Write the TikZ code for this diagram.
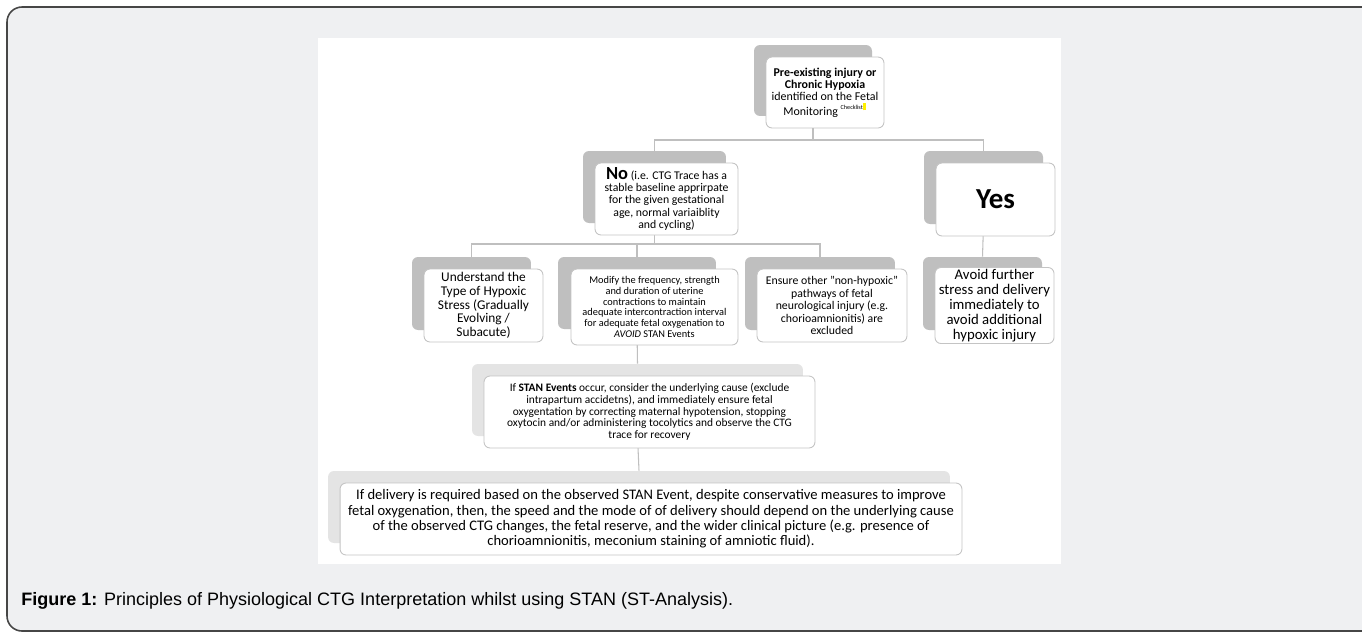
\documentclass[tikz,border=0pt]{standalone}
\usepackage{fontspec}
\setmainfont{Carlito}
\newfontfamily\capfont{Liberation Sans}
\usetikzlibrary{backgrounds}
\definecolor{pagebg}{RGB}{239,240,242}
\definecolor{framegray}{RGB}{70,70,70}
\definecolor{shadedark}{RGB}{191,191,191}
\definecolor{shadelight}{RGB}{228,228,228}
\definecolor{boxline}{RGB}{196,196,196}
\definecolor{linkgray}{RGB}{191,191,191}
\definecolor{marker}{RGB}{255,240,0}

\begin{document}
\begin{tikzpicture}[x=0.02cm,y=-0.02cm]

\tikzstyle{sd} = [fill=shadedark, rounded corners=0.12cm, inner sep=0pt]
\tikzstyle{sl} = [fill=shadelight, rounded corners=0.12cm, inner sep=0pt]
\tikzstyle{b} = [draw=boxline, line width=0.5pt, fill=white, rounded corners=0.12cm, align=center, inner sep=1pt]
\tikzstyle{link} = [draw=linkgray, line width=0.6pt]

\useasboundingbox (0,0) rectangle (1362,633);

% page and figure area
\begin{scope}[on background layer]
\draw[framegray, line width=0.9pt, fill=pagebg, rounded corners=0.3cm] (7,7) rectangle (1400,631);
\fill[white] (318,38) rectangle (1061,564);
\end{scope}

% level 0
\node[sd, minimum width=2.36cm, minimum height=1.42cm] (tops) at (813,80.5) {};
\node[b, minimum width=2.36cm, minimum height=1.42cm, font=\fontsize{6.8}{7}\selectfont] (top) at (825,92.5)
{\textbf{Pre-existing injury or}\\ \textbf{Chronic Hypoxia}\\ identified on the Fetal\\ Monitoring \textsuperscript{\fontsize{3.5}{4}\selectfont Checklist\textcolor{marker}{\rule[-0.3pt]{1.6pt}{4.5pt}}}};

% level 1
\node[sd, minimum width=2.86cm, minimum height=1.44cm] (nos) at (654.5,187) {};
\node[b, minimum width=2.86cm, minimum height=1.44cm, font=\fontsize{6.7}{6.9}\selectfont] (no) at (666.5,199)
{{\fontsize{10.5}{10}\selectfont\bfseries No} (i.e. CTG Trace has a\\ stable baseline apprirpate\\ for the given gestational\\ age, normal variaiblity\\ and cycling)};

\node[sd, minimum width=2.38cm, minimum height=1.46cm] (yess) at (983.5,187.5) {};
\node[b, minimum width=2.38cm, minimum height=1.46cm, font=\fontsize{16.5}{18}\selectfont\bfseries] (yes) at (995.5,199.5) {Yes};

% level 2
\node[sd, minimum width=2.38cm, minimum height=1.46cm] (unds) at (471.5,293.5) {};
\node[b, minimum width=2.38cm, minimum height=1.46cm, font=\fontsize{7.6}{7.8}\selectfont] (und) at (483.5,305.5)
{Understand the\\ Type of Hypoxic\\ Stress (Gradually\\ Evolving /\\ Subacute)};

\node[sd, minimum width=3.16cm, minimum height=1.44cm] (mods) at (637,293) {};
\node[b, minimum width=3.34cm, minimum height=1.52cm, font=\fontsize{5.9}{6.1}\selectfont] (mod) at (654.5,307)
{Modify the frequency, strength\\ and duration of uterine\\ contractions to maintain\\ adequate intercontraction interval\\ for adequate fetal oxygenation to\\ \textit{AVOID} STAN Events};

\node[sd, minimum width=3.0cm, minimum height=1.46cm] (enss) at (820,293.5) {};
\node[b, minimum width=3.0cm, minimum height=1.46cm, font=\fontsize{6.7}{7.1}\selectfont] (ens) at (832,305.5)
{Ensure other "non-hypoxic"\\ pathways of fetal\\ neurological injury (e.g.\\ chorioamnionitis) are\\ excluded};

\node[sd, minimum width=2.38cm, minimum height=1.46cm] (avos) at (982.5,293.5) {};
\node[b, minimum width=2.38cm, minimum height=1.46cm, font=\fontsize{8.4}{8.5}\selectfont] (avo) at (994.5,305.5)
{Avoid further\\ stress and delivery\\ immediately to\\ avoid additional\\ hypoxic injury};

% level 3
\node[sl, minimum width=6.62cm, minimum height=1.44cm] (stans) at (637.5,400) {};
\node[b, minimum width=6.62cm, minimum height=1.44cm, font=\fontsize{6.5}{6.65}\selectfont] (stan) at (649.5,412)
{If \textbf{STAN Events} occur, consider the underlying cause (exclude\\ intrapartum accidetns), and immediately ensure fetal\\ oxygentation by correcting maternal hypotension, stopping\\ oxytocin and/or administering tocolytics and observe the CTG\\ trace for recovery};

% level 4
\node[sl, minimum width=12.44cm, minimum height=1.44cm] (lasts) at (639,507) {};
\node[b, minimum width=12.44cm, minimum height=1.44cm, font=\fontsize{8.3}{8.7}\selectfont] (last) at (651,519)
{If delivery is required based on the observed STAN Event, despite conservative measures to improve\\ fetal oxygenation, then, the speed and the mode of of delivery should depend on the underlying cause\\ of the observed CTG changes, the fetal reserve, and the wider clinical picture (e.g. presence of\\ chorioamnionitis, meconium staining of amniotic fluid).};

% caption
\node[anchor=west, inner sep=0pt, font=\capfont\fontsize{10.25}{12}\selectfont] (cap) at (21,601)
{\textbf{Figure 1:} Principles of Physiological CTG Interpretation whilst using STAN (ST-Analysis).};

% connectors
\coordinate (j1) at (813,140);
\coordinate (j2) at (654.5,244);
\begin{scope}[on background layer]
\draw[link] (tops.south) -- (j1) -| (nos.north);
\draw[link] (j1) -| (yess.north);
\draw[link] (nos.south) -- (j2) -| (unds.north);
\draw[link] (j2) -| (mods.north);
\draw[link] (j2) -| (enss.north);
\draw[link] (yess.south) -- (avos.north);
\draw[link] (mods.south) -- (stans.north);
\draw[link] (stans.south) -- (lasts.north);
\end{scope}

\end{tikzpicture}
\end{document}
